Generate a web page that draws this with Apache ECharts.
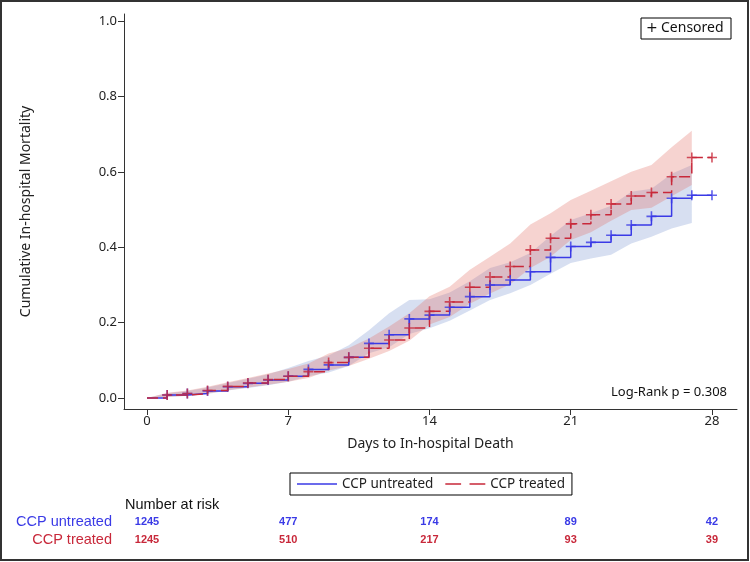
<!DOCTYPE html>
<html><head><meta charset="utf-8">
<script src="https://cdn.jsdelivr.net/npm/echarts@6/dist/echarts.min.js"></script>
<style>html,body{margin:0;padding:0;background:#fff;}#c{width:750px;height:562px;}</style>
</head><body><div id="c"></div>
<script>
// ---- data ----
const days = [0,1,2,3,4,5,6,7,8,9,10,11,12,13,14,15,16,17,18,19,20,21,22,23,24,25,26,27];
const untreated = [0,0.008,0.012,0.019,0.030,0.039,0.048,0.058,0.076,0.088,0.108,0.145,0.168,0.210,0.220,0.241,0.269,0.300,0.313,0.335,0.373,0.402,0.413,0.432,0.459,0.482,0.530,0.538];
const treated   = [0,0.008,0.012,0.020,0.031,0.040,0.049,0.058,0.070,0.094,0.108,0.132,0.154,0.186,0.230,0.255,0.294,0.321,0.349,0.393,0.424,0.462,0.486,0.515,0.536,0.545,0.587,0.638];
const untreatedLower = [0,0.003,0.006,0.011,0.020,0.027,0.034,0.043,0.058,0.068,0.085,0.119,0.135,0.170,0.185,0.205,0.232,0.260,0.278,0.300,0.330,0.358,0.370,0.380,0.410,0.428,0.450,0.464];
const untreatedUpper = [0,0.013,0.019,0.028,0.040,0.051,0.063,0.080,0.098,0.113,0.140,0.180,0.225,0.260,0.262,0.280,0.310,0.345,0.360,0.385,0.430,0.472,0.490,0.510,0.547,0.555,0.595,0.618];
const treatedLower = [0,0.003,0.006,0.012,0.021,0.028,0.035,0.043,0.053,0.073,0.085,0.104,0.125,0.152,0.195,0.215,0.250,0.277,0.302,0.345,0.375,0.419,0.440,0.470,0.499,0.505,0.535,0.565];
const treatedUpper = [0,0.014,0.020,0.030,0.042,0.053,0.065,0.077,0.092,0.118,0.133,0.158,0.190,0.225,0.270,0.295,0.340,0.375,0.410,0.460,0.490,0.525,0.550,0.575,0.600,0.618,0.665,0.709];
const lastDay = 28;
const xTicks = [0,7,14,21,28];
const yTicks = [0,0.2,0.4,0.6,0.8,1.0];
const riskDays = [0,7,14,21,28];
const riskUntreated = [1245,477,174,89,42];
const riskTreated = [1245,510,217,93,39];
const groupNames = ['CCP untreated','CCP treated'];
const logRankText = 'Log-Rank p = 0.308';

// ---- styles ----
const BLUE = '#3a3ae6';
const RED = '#c8283a';
const FONT = '"Noto Sans", "Open Sans", sans-serif';
const plusPath = 'path://M4.2,0h1.6v4.2h4.2v1.6h-4.2v4.2h-1.6v-4.2h-4.2v-1.6h4.2z';

function stepData(vals){
  const d = days.map((x,i)=>[x, vals[i]]);
  d.push([lastDay, vals[vals.length-1]]);
  return d;
}
function censorData(vals){
  const d = days.slice(1).map((x,i)=>[x, vals[i+1]]);
  d.push([lastDay, vals[vals.length-1]]);
  return d;
}
function bandSeries(lower, upper, color){
  return {
    type:'custom', silent:true, z:1,
    data:[[days[0], lower[0]]],
    encode:{x:0, y:1},
    renderItem:function(params, api){
      const pts = [];
      days.forEach((x,i)=>pts.push(api.coord([x, upper[i]])));
      for(let i=days.length-1;i>=0;i--) pts.push(api.coord([days[i], lower[i]]));
      return {type:'polygon', shape:{points:pts}, style:{fill:color, stroke:'none'}};
    }
  };
}

const chart = echarts.init(document.getElementById('c'), null, {renderer:'canvas'});
const option = {
  animation:false,
  backgroundColor:'#fff',
  grid:{left:124, right:13, top:14, bottom:153, containLabel:false},
  xAxis:{
    type:'value', min:-1.14, max:29.24,
    name:'Days to In-hospital Death', nameLocation:'middle', nameGap:28,
    nameTextStyle:{fontFamily:FONT, fontSize:14, color:'#222'},
    axisLine:{show:true, onZero:false, lineStyle:{color:'#333', width:1}},
    axisTick:{show:true, customValues:xTicks, length:6, lineStyle:{color:'#333'}},
    axisLabel:{customValues:xTicks, fontFamily:FONT, fontSize:13, color:'#222', margin:6},
    splitLine:{show:false}
  },
  yAxis:{
    type:'value', min:-0.029, max:1.0186,
    name:'Cumulative In-hospital Mortality', nameLocation:'middle', nameGap:91,
    nameTextStyle:{fontFamily:FONT, fontSize:14, color:'#222'},
    axisLine:{show:true, onZero:false, lineStyle:{color:'#333', width:1}},
    axisTick:{show:true, customValues:yTicks, length:6, lineStyle:{color:'#333'}},
    axisLabel:{customValues:yTicks, formatter:v=>v.toFixed(1), fontFamily:FONT, fontSize:13, color:'#222', margin:7},
    splitLine:{show:false}
  },
  legend:{
    data:[
      {name:groupNames[0], icon:'path://M0,4h40v1.6h-40z', itemStyle:{color:BLUE}},
      {name:groupNames[1], icon:'path://M0,4h15v1.6h-15z M23,4h15v1.6h-15z', itemStyle:{color:RED}}
    ],
    left:290, top:473,
    orient:'horizontal',
    borderColor:'#000', borderWidth:1, padding:[4,7,4,7],
    itemWidth:40, itemHeight:10, itemGap:12,
    textStyle:{fontFamily:FONT, fontSize:13.5, color:'#222'},
    selectedMode:false
  },
  series:[
    bandSeries(untreatedLower, untreatedUpper, 'rgba(110,140,205,0.28)'),
    bandSeries(treatedLower, treatedUpper, 'rgba(225,110,100,0.30)'),
    {name:groupNames[0], type:'line', step:'end', data:stepData(untreated), symbol:'none',
     lineStyle:{color:BLUE, width:1.5}, itemStyle:{color:BLUE}, z:3},
    {name:groupNames[1], type:'line', step:'end', data:stepData(treated), symbol:'none',
     lineStyle:{color:RED, width:1.5, type:[11,5]}, itemStyle:{color:RED}, z:4},
    {type:'scatter', data:censorData(untreated), symbol:plusPath, symbolSize:10, itemStyle:{color:BLUE}, z:5, silent:true},
    {type:'scatter', data:censorData(treated), symbol:plusPath, symbolSize:10, itemStyle:{color:RED}, z:6, silent:true}
  ]
};
chart.setOption(option);

// ---- annotations / risk table ----
const graphics = [];
graphics.push({type:'rect', shape:{x:1, y:1, width:747, height:559}, style:{fill:'none', stroke:'#333', lineWidth:2}, silent:true, z:100});
// Censored box
graphics.push({type:'rect', shape:{x:641, y:18, width:90, height:21}, style:{fill:'#fff', stroke:'#000', lineWidth:1}, z:50});
graphics.push({type:'text', x:646, y:28.5, style:{text:'+', fontFamily:'"DejaVu Sans", sans-serif', fontSize:14, fill:'#111', verticalAlign:'middle', align:'left'}, z:51});
graphics.push({type:'text', x:661, y:28.5, style:{text:'Censored', fontFamily:FONT, fontSize:14, fill:'#111', verticalAlign:'middle', align:'left'}, z:51});
// Log-rank
graphics.push({type:'text', x:727, y:392, style:{text:logRankText, fontFamily:FONT, fontSize:13, fill:'#111', verticalAlign:'middle', align:'right'}, z:51});
// Number at risk
const RFONT = '"Liberation Sans", Arial, sans-serif';
graphics.push({type:'text', x:125, y:505, style:{text:'Number at risk', fontFamily:RFONT, fontSize:14.5, fill:'#111', verticalAlign:'middle', align:'left'}});
graphics.push({type:'text', x:112, y:522, style:{text:groupNames[0], fontFamily:RFONT, fontSize:14.5, fill:BLUE, verticalAlign:'middle', align:'right'}});
graphics.push({type:'text', x:112, y:540, style:{text:groupNames[1], fontFamily:RFONT, fontSize:14.5, fill:RED, verticalAlign:'middle', align:'right'}});
riskDays.forEach((d,i)=>{
  const px = chart.convertToPixel({xAxisIndex:0}, d);
  graphics.push({type:'text', x:px, y:522, style:{text:String(riskUntreated[i]), fontFamily:RFONT, fontSize:11, fontWeight:'bold', fill:BLUE, verticalAlign:'middle', align:'center'}});
  graphics.push({type:'text', x:px, y:540, style:{text:String(riskTreated[i]), fontFamily:RFONT, fontSize:11, fontWeight:'bold', fill:RED, verticalAlign:'middle', align:'center'}});
});
chart.setOption({graphic:graphics});
</script>
</body></html>
